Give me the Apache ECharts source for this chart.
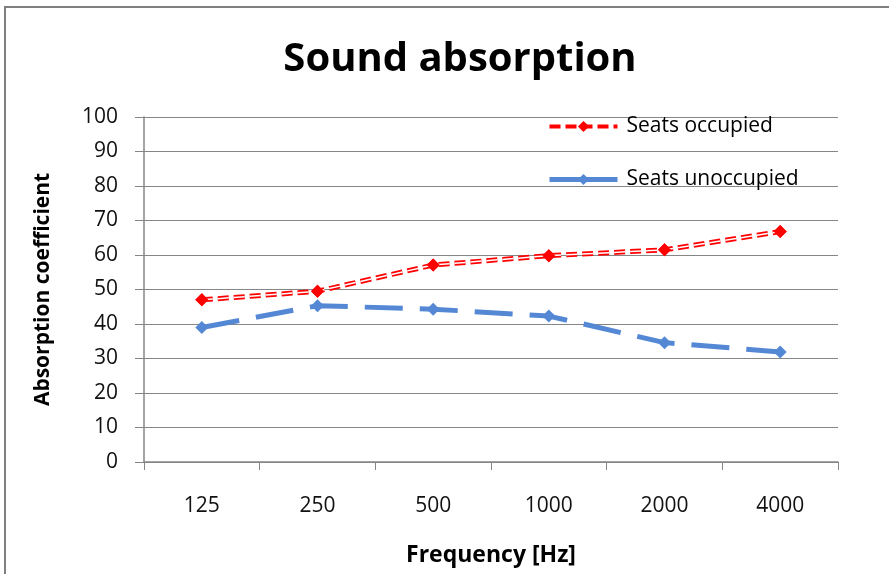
<!DOCTYPE html>
<html>
<head>
<meta charset="utf-8">
<script src="https://cdn.jsdelivr.net/npm/echarts@6/dist/echarts.min.js"></script>
<style>
html,body{margin:0;padding:0;background:#fff;}
#chart{width:889px;height:574px;}
</style>
</head>
<body>
<div id="chart"></div>
<script>
var categories = ['125', '250', '500', '1000', '2000', '4000'];
var seatsOccupied = [47.0, 49.5, 57.1, 59.8, 61.5, 66.8];
var seatsUnoccupied = [39.0, 45.3, 44.3, 42.3, 34.6, 31.9];
var yTicks = [0, 10, 20, 30, 40, 50, 60, 70, 80, 90, 100];

var FONT = '"Open Sans", Lato, sans-serif';
var RED = '#ff0000';
var BLUE = '#5588d4';
var GRAY = '#868686';

var chart = echarts.init(document.getElementById('chart'), null, {renderer: 'canvas'});
chart.setOption({
  backgroundColor: '#ffffff',
  animation: false,
  title: {
    text: 'Sound absorption',
    left: 455,
    top: 35,
    textAlign: 'center',
    textStyle: {fontFamily: FONT, fontSize: 40, fontWeight: 'bold', color: '#000'}
  },
  graphic: [
    {type: 'rect', shape: {x: 5, y: 7, width: 900, height: 600},
     style: {fill: 'none', stroke: '#7f7f7f', lineWidth: 2}, z: -1}
  ],
  legend: {
    orient: 'vertical',
    left: 542,
    top: 111,
    itemWidth: 68,
    itemHeight: 14,
    itemGap: 32,
    textStyle: {fontFamily: FONT, fontSize: 21, color: '#000', padding: [0, 0, 0, 4]},
    data: [
      {name: 'Seats occupied', lineStyle: {width: 4}},
      {name: 'Seats unoccupied', lineStyle: {type: 'solid', width: 5}}
    ]
  },
  grid: {left: 144, top: 117, width: 694, height: 345, containLabel: false},
  xAxis: {
    type: 'category',
    data: categories,
    boundaryGap: true,
    name: 'Frequency [Hz]',
    nameLocation: 'middle',
    nameGap: 82,
    nameTextStyle: {fontFamily: FONT, fontSize: 23, fontWeight: 'bold', color: '#000'},
    axisLine: {lineStyle: {color: GRAY, width: 1.5}},
    axisTick: {show: true, length: 8, lineStyle: {color: GRAY, width: 1}},
    axisLabel: {margin: 34, fontFamily: FONT, fontSize: 21, color: '#111'},
    splitLine: {show: false}
  },
  yAxis: {
    type: 'value',
    min: 0,
    max: 100,
    interval: 10,
    name: 'Absorption coefficient',
    nameLocation: 'middle',
    nameGap: 90,
    nameRotate: 90,
    nameTextStyle: {fontFamily: FONT, fontSize: 21, fontWeight: 'bold', color: '#000'},
    axisLine: {show: true, lineStyle: {color: GRAY, width: 1.5}},
    axisTick: {show: true, length: 9, lineStyle: {color: GRAY, width: 1}},
    axisLabel: {margin: 26, fontFamily: FONT, fontSize: 21, color: '#111',
      formatter: function (v) { return yTicks.indexOf(v) >= 0 ? String(v) : ''; }},
    splitLine: {show: true, lineStyle: {color: GRAY, width: 1}}
  },
  series: [
    {
      name: 'Seats occupied',
      type: 'line',
      data: seatsOccupied,
      symbol: 'diamond',
      symbolSize: 13,
      itemStyle: {color: RED},
      lineStyle: {color: RED, width: 5, type: [11, 5]},
      z: 3
    },
    {
      name: 'occupied-inner',
      type: 'line',
      data: seatsOccupied,
      symbol: 'none',
      lineStyle: {color: '#ffffff', width: 1.5, type: [11, 5]},
      silent: true,
      z: 4
    },
    {
      name: 'occupied-markers',
      type: 'line',
      data: seatsOccupied,
      symbol: 'diamond',
      symbolSize: 13,
      itemStyle: {color: RED},
      lineStyle: {width: 0, opacity: 0},
      silent: true,
      z: 5
    },
    {
      name: 'Seats unoccupied',
      type: 'line',
      data: seatsUnoccupied,
      symbol: 'diamond',
      symbolSize: 13,
      itemStyle: {color: BLUE},
      lineStyle: {color: BLUE, width: 5, type: [38, 17]},
      z: 2
    }
  ]
});
</script>
</body>
</html>
